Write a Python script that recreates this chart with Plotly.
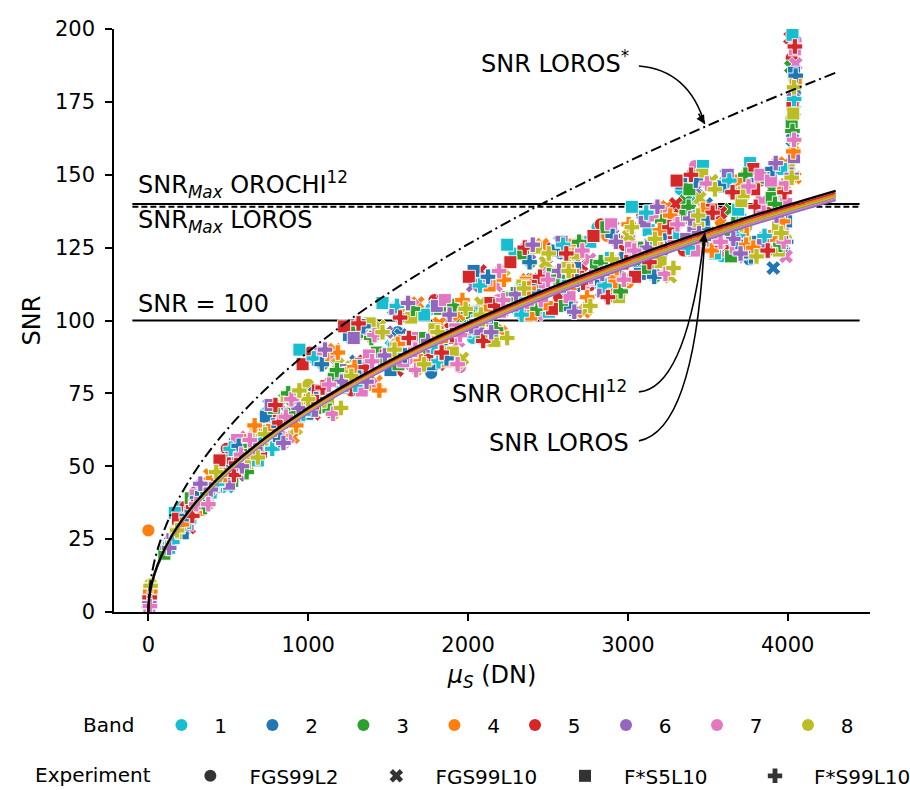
import plotly.graph_objects as go

# ---------------- data ----------------
bands = ["1", "2", "3", "4", "5", "6", "7", "8"]
band_colors = ["#17becf", "#1f77b4", "#2ca02c", "#ff7f0e", "#d62728", "#9467bd", "#e377c2", "#bcbd22"]
experiments = ["FGS99L2", "FGS99L10", "F*S5L10", "F*S99L10"]
exp_symbols = ["circle", "x", "square", "cross"]

# FGS99L2 (per band)
fgs99l2_x = [
    [8, 140, 410, 690, 950, 1230, 1500, 1780, 2060, 2330, 2610, 2890, 3160, 3440, 3720, 3960, 4030],
    [12, 210, 470, 760, 1020, 1290, 1560, 1770, 2110, 2390, 2580, 2940, 3210, 3480, 3760, 3980, 4045],
    [5, 95, 330, 600, 870, 1140, 1410, 1690, 1960, 2240, 2520, 2790, 3070, 3350, 3630, 3770, 4010],
    [0, 170, 440, 720, 990, 1260, 1530, 1800, 2080, 2350, 2630, 2870, 3000, 3300, 3580, 3860, 4040],
    [10, 250, 520, 800, 1070, 1340, 1610, 1880, 2150, 2440, 2490, 2760, 3040, 3310, 3590, 3870, 4025],
    [6, 120, 380, 660, 930, 1200, 1470, 1740, 2020, 2300, 2570, 2850, 3120, 3390, 3670, 3940, 4035],
    [9, 280, 550, 830, 1100, 1370, 1640, 1950, 2190, 2470, 2740, 3010, 3280, 3420, 3700, 3970, 4050],
    [14, 190, 460, 740, 1000, 1280, 1550, 1820, 2090, 2370, 2640, 2920, 3190, 3460, 3740, 3990, 4040],
]
fgs99l2_y = [
    [5, 24, 43, 57, 68, 81, 88, 91, 102, 112, 111, 117, 126, 137, 128, 133, 165],
    [6, 30, 46, 63, 73, 85, 96, 82, 104, 113, 123, 119, 127, 136, 121, 124, 178],
    [3, 20, 39, 55, 67, 79, 87, 90, 99, 108, 115, 115, 123, 135, 128, 154, 152],
    [28, 27, 45, 60, 72, 80, 91, 93, 101, 113, 111, 129, 113, 135, 134, 126, 170],
    [7, 33, 50, 64, 76, 83, 91, 96, 104, 103, 125, 112, 123, 139, 130, 137, 190],
    [4, 23, 41, 56, 70, 80, 89, 90, 97, 106, 113, 113, 121, 141, 127, 130, 158],
    [2, 36, 52, 66, 76, 86, 88, 84, 107, 116, 113, 129, 128, 153, 123, 131, 196],
    [8, 29, 47, 61, 78, 82, 92, 94, 103, 111, 121, 117, 127, 138, 132, 128, 183],
]
fgs99l2_x_more = [
    [210, 470, 730, 990, 1250, 1510, 1770, 2030, 2290, 2550, 2810, 3070, 3330, 3590, 3810],
    [260, 520, 780, 1040, 1300, 1560, 1820, 2080, 2340, 2600, 2860, 3120, 3380, 3640, 3860],
    [310, 570, 830, 1090, 1350, 1610, 1870, 2130, 2390, 2650, 2910, 3170, 3430, 3690, 3910],
    [360, 620, 880, 1140, 1400, 1660, 1920, 2180, 2440, 2700, 2960, 3220, 3480, 3740, 3960],
    [230, 490, 750, 1010, 1270, 1530, 1790, 2050, 2310, 2570, 2830, 3090, 3350, 3610, 3830],
    [280, 540, 800, 1060, 1320, 1580, 1840, 2100, 2360, 2620, 2880, 3140, 3400, 3660, 3880],
    [330, 590, 850, 1110, 1370, 1630, 1890, 2150, 2410, 2670, 2930, 3190, 3450, 3710, 3930],
    [380, 640, 900, 1160, 1420, 1680, 1940, 2200, 2460, 2720, 2980, 3240, 3500, 3760, 3980],
]
fgs99l2_y_more = [
    [36, 43, 68, 70, 96, 85, 104, 94, 123, 105, 132, 118, 145, 122, 149],
    [32, 56, 57, 87, 78, 105, 86, 112, 102, 126, 112, 137, 125, 148, 129],
    [40, 57, 59, 85, 98, 88, 87, 115, 120, 104, 129, 115, 148, 127, 152],
    [37, 49, 75, 69, 94, 104, 105, 97, 104, 127, 110, 134, 128, 150, 126],
    [36, 56, 57, 89, 76, 86, 107, 114, 106, 108, 133, 136, 124, 125, 148],
    [34, 47, 71, 72, 99, 101, 89, 93, 125, 123, 108, 120, 150, 144, 124],
    [44, 50, 58, 90, 79, 106, 102, 96, 126, 103, 127, 139, 130, 123, 154],
    [37, 60, 73, 68, 95, 83, 85, 117, 107, 124, 114, 116, 147, 146, 127],
]

# FGS99L10 (per band)
fgs99l10_x = [
    [7, 160, 420, 700, 980, 1250, 1520, 1790, 2060, 2340, 2610, 2880, 3150, 3430, 3700, 3970, 4040],
    [11, 230, 490, 770, 1040, 1300, 1580, 1850, 2120, 2400, 2670, 2950, 3220, 3490, 3760, 3910, 4030],
    [4, 110, 360, 630, 900, 1170, 1440, 1710, 1990, 2270, 2540, 2810, 3090, 3360, 3640, 3900, 4020],
    [13, 200, 470, 740, 1010, 1280, 1550, 1820, 2100, 2370, 2640, 2920, 3190, 3460, 3730, 3950, 4045],
    [9, 270, 540, 810, 1080, 1350, 1620, 1890, 2160, 2440, 2710, 2980, 3250, 3300, 3580, 3850, 4015],
    [6, 140, 400, 680, 950, 1220, 1490, 1760, 2030, 2300, 2580, 2850, 3130, 3400, 3680, 3940, 4035],
    [10, 300, 570, 850, 1120, 1390, 1660, 1940, 2210, 2490, 2760, 3030, 3300, 3570, 3840, 3990, 4050],
    [15, 180, 450, 720, 990, 1270, 1540, 1810, 2080, 2360, 2630, 2900, 3170, 3450, 3720, 3980, 4040],
]
fgs99l10_y = [
    [4, 25, 44, 58, 69, 81, 91, 93, 99, 111, 113, 116, 124, 143, 135, 141, 172],
    [5, 32, 47, 63, 75, 86, 95, 91, 105, 114, 112, 120, 130, 140, 124, 118, 162],
    [2, 21, 40, 58, 71, 81, 88, 88, 101, 107, 117, 115, 121, 141, 138, 145, 187],
    [7, 29, 47, 60, 73, 84, 87, 99, 100, 114, 112, 117, 129, 135, 127, 137, 149],
    [6, 35, 52, 66, 75, 86, 93, 97, 104, 110, 119, 124, 132, 140, 137, 128, 197],
    [3, 24, 42, 59, 70, 82, 96, 90, 112, 108, 116, 114, 122, 137, 126, 131, 176],
    [3, 38, 52, 65, 74, 88, 87, 93, 103, 119, 121, 125, 131, 124, 141, 122, 188],
    [9, 28, 46, 61, 72, 84, 89, 92, 106, 110, 116, 120, 125, 142, 143, 137, 160],
]
fgs99l10_x_more = [
    [235, 495, 755, 1015, 1275, 1535, 1795, 2055, 2315, 2575, 2835, 3095, 3355, 3615, 3835],
    [285, 545, 805, 1065, 1325, 1585, 1845, 2105, 2365, 2625, 2885, 3145, 3405, 3665, 3885],
    [335, 595, 855, 1115, 1375, 1635, 1895, 2155, 2415, 2675, 2935, 3195, 3455, 3715, 3935],
    [385, 645, 905, 1165, 1425, 1685, 1945, 2205, 2465, 2725, 2985, 3245, 3505, 3765, 3985],
    [255, 515, 775, 1035, 1295, 1555, 1815, 2075, 2335, 2595, 2855, 3115, 3375, 3635, 3855],
    [305, 565, 825, 1085, 1345, 1605, 1865, 2125, 2385, 2645, 2905, 3165, 3425, 3685, 3905],
    [355, 615, 875, 1135, 1395, 1655, 1915, 2175, 2435, 2695, 2955, 3215, 3475, 3735, 3955],
    [405, 665, 925, 1185, 1445, 1705, 1965, 2225, 2485, 2745, 3005, 3265, 3525, 3785, 4005],
]
fgs99l10_y_more = [
    [29, 43, 71, 69, 94, 104, 105, 97, 104, 127, 110, 134, 128, 150, 126],
    [39, 58, 59, 89, 76, 86, 107, 114, 106, 108, 133, 136, 124, 125, 148],
    [37, 50, 73, 72, 99, 101, 89, 93, 125, 123, 108, 120, 150, 144, 124],
    [47, 53, 60, 90, 79, 106, 102, 96, 126, 103, 127, 139, 130, 123, 154],
    [29, 54, 68, 68, 95, 83, 85, 117, 107, 124, 114, 116, 147, 146, 127],
    [41, 47, 71, 70, 96, 85, 104, 94, 123, 105, 132, 118, 145, 122, 149],
    [37, 60, 60, 87, 78, 105, 86, 112, 102, 126, 112, 137, 125, 148, 129],
    [45, 62, 63, 85, 98, 88, 87, 115, 120, 104, 129, 115, 148, 127, 152],
]

# F*S5L10 (per band)
fs5l10_x = [
    [5, 130, 390, 670, 940, 1210, 1480, 1760, 2030, 2310, 2590, 2860, 3130, 3470, 3690, 3960, 4030],
    [8, 220, 480, 750, 1030, 1310, 1570, 1840, 2120, 2390, 2670, 2940, 3210, 3480, 3750, 3990, 4040],
    [12, 100, 350, 620, 890, 1160, 1430, 1700, 1980, 2250, 2530, 2800, 3080, 3360, 3640, 3900, 4025],
    [4, 190, 460, 730, 1000, 1270, 1540, 1810, 2090, 2360, 2630, 2910, 3180, 3450, 3720, 3970, 4050],
    [7, 260, 530, 790, 1060, 1330, 1600, 1870, 2140, 2420, 2690, 2970, 3240, 3520, 3790, 3950, 4030],
    [10, 150, 410, 690, 960, 1230, 1500, 1770, 2040, 2320, 2600, 2870, 3140, 3410, 3690, 3960, 4040],
    [6, 290, 560, 840, 1110, 1380, 1650, 1920, 2200, 2480, 2750, 3020, 3290, 3560, 3830, 3990, 4045],
    [13, 170, 440, 710, 980, 1250, 1520, 1790, 2070, 2340, 2620, 2890, 3160, 3440, 3710, 3940, 4035],
]
fs5l10_y = [
    [1, 22, 41, 56, 67, 77, 85, 92, 100, 107, 114, 119, 131, 153, 138, 152, 198],
    [5, 31, 48, 62, 73, 83, 89, 95, 101, 112, 118, 117, 124, 133, 147, 134, 185],
    [6, 20, 40, 56, 68, 80, 89, 94, 97, 108, 116, 119, 125, 136, 131, 142, 168],
    [3, 29, 46, 61, 70, 83, 90, 96, 103, 113, 117, 114, 126, 137, 131, 145, 182],
    [4, 34, 51, 63, 76, 85, 93, 94, 106, 112, 115, 120, 130, 138, 145, 133, 174],
    [5, 25, 43, 57, 69, 83, 87, 91, 103, 107, 112, 120, 126, 131, 126, 136, 156],
    [1, 37, 53, 65, 77, 88, 94, 97, 103, 113, 114, 125, 134, 128, 150, 140, 193],
    [8, 27, 45, 59, 71, 82, 88, 97, 100, 112, 118, 118, 127, 134, 141, 132, 171],
]
fs5l10_x_more = [
    [165, 425, 685, 945, 1205, 1465, 1725, 1985, 2245, 2505, 2765, 3025, 3285, 3545, 3765],
    [215, 475, 735, 995, 1255, 1515, 1775, 2035, 2295, 2555, 2815, 3075, 3335, 3595, 3815],
    [265, 525, 785, 1045, 1305, 1565, 1825, 2085, 2345, 2605, 2865, 3125, 3385, 3645, 3865],
    [315, 575, 835, 1095, 1355, 1615, 1875, 2135, 2395, 2655, 2915, 3175, 3435, 3695, 3915],
    [185, 445, 705, 965, 1225, 1485, 1745, 2005, 2265, 2525, 2785, 3045, 3305, 3565, 3785],
    [245, 505, 765, 1025, 1285, 1545, 1805, 2065, 2325, 2585, 2845, 3105, 3365, 3625, 3845],
    [295, 555, 815, 1075, 1335, 1595, 1855, 2115, 2375, 2635, 2895, 3155, 3415, 3675, 3895],
    [345, 605, 865, 1125, 1385, 1645, 1905, 2165, 2425, 2685, 2945, 3205, 3465, 3725, 3945],
]
fs5l10_y_more = [
    [34, 43, 52, 90, 79, 106, 102, 96, 126, 103, 127, 139, 130, 123, 154],
    [27, 52, 67, 68, 95, 83, 85, 117, 107, 124, 114, 116, 147, 146, 127],
    [39, 45, 70, 70, 96, 85, 104, 94, 123, 105, 132, 118, 145, 122, 149],
    [35, 59, 59, 87, 78, 105, 86, 112, 102, 126, 112, 137, 125, 148, 129],
    [32, 52, 55, 85, 98, 88, 87, 115, 120, 104, 129, 115, 148, 127, 152],
    [30, 44, 71, 69, 94, 104, 105, 97, 104, 127, 110, 134, 128, 150, 126],
    [40, 59, 60, 89, 76, 86, 107, 114, 106, 108, 133, 136, 124, 125, 148],
    [38, 50, 74, 72, 99, 101, 89, 93, 125, 123, 108, 120, 150, 144, 124],
]

# F*S99L10 (per band)
fs99l10_x = [
    [9, 150, 430, 710, 970, 1240, 1510, 1780, 2050, 2330, 2600, 2870, 3140, 3420, 3690, 3950, 4040],
    [11, 240, 500, 780, 1050, 1320, 1590, 1860, 2130, 2410, 2680, 2960, 3230, 3500, 3770, 3990, 4050],
    [4, 120, 370, 640, 910, 1180, 1450, 1720, 2000, 2280, 2560, 2830, 3110, 3380, 3660, 3920, 4030],
    [12, 210, 480, 750, 1020, 1290, 1560, 1830, 2110, 2380, 2650, 2930, 3200, 3470, 3740, 3970, 4035],
    [8, 280, 550, 820, 1090, 1360, 1630, 1900, 2170, 2450, 2720, 2990, 3260, 3530, 3800, 3980, 4045],
    [6, 130, 390, 670, 940, 1210, 1480, 1750, 2020, 2300, 2570, 2840, 3120, 3390, 3660, 3930, 4025],
    [10, 300, 580, 860, 1130, 1400, 1670, 1950, 2220, 2500, 2770, 3040, 3310, 3580, 3850, 3990, 4040],
    [14, 180, 450, 730, 1000, 1270, 1540, 1810, 2080, 2350, 2630, 2900, 3170, 3440, 3710, 3960, 4040],
]
fs99l10_y = [
    [6, 24, 44, 59, 68, 78, 90, 91, 102, 110, 112, 121, 125, 137, 129, 138, 176],
    [6, 33, 48, 64, 73, 84, 92, 94, 102, 110, 114, 121, 130, 135, 122, 127, 184],
    [2, 22, 41, 57, 68, 83, 86, 91, 103, 109, 115, 120, 123, 139, 133, 140, 165],
    [7, 30, 47, 62, 72, 84, 92, 93, 103, 111, 117, 118, 131, 138, 126, 134, 158],
    [5, 36, 51, 65, 77, 84, 94, 95, 105, 115, 113, 120, 132, 137, 139, 144, 194],
    [3, 22, 42, 56, 70, 79, 88, 93, 98, 109, 117, 116, 125, 135, 128, 136, 150],
    [2, 37, 54, 67, 78, 86, 90, 95, 107, 114, 115, 124, 133, 127, 137, 147, 162],
    [9, 28, 47, 61, 73, 81, 90, 96, 102, 111, 117, 121, 128, 136, 133, 130, 180],
]
fs99l10_x_more = [
    [255, 515, 775, 1035, 1295, 1555, 1815, 2075, 2335, 2595, 2855, 3115, 3375, 3635, 3855],
    [305, 565, 825, 1085, 1345, 1605, 1865, 2125, 2385, 2645, 2905, 3165, 3425, 3685, 3905],
    [355, 615, 875, 1135, 1395, 1655, 1915, 2175, 2435, 2695, 2955, 3215, 3475, 3735, 3955],
    [405, 665, 925, 1185, 1445, 1705, 1965, 2225, 2485, 2745, 3005, 3265, 3525, 3785, 4005],
    [275, 535, 795, 1055, 1315, 1575, 1835, 2095, 2355, 2615, 2875, 3135, 3395, 3655, 3875],
    [325, 585, 845, 1105, 1365, 1625, 1885, 2145, 2405, 2665, 2925, 3185, 3445, 3705, 3925],
    [375, 635, 895, 1155, 1415, 1675, 1935, 2195, 2455, 2715, 2975, 3235, 3495, 3755, 3975],
    [425, 685, 945, 1205, 1465, 1725, 1985, 2245, 2505, 2765, 3025, 3285, 3545, 3805, 4025],
]
fs99l10_y_more = [
    [31, 56, 56, 87, 78, 105, 86, 112, 102, 126, 112, 137, 125, 148, 129],
    [39, 57, 59, 85, 98, 88, 87, 115, 120, 104, 129, 115, 148, 127, 152],
    [36, 48, 75, 69, 94, 104, 105, 97, 104, 127, 110, 134, 128, 150, 126],
    [46, 64, 64, 89, 76, 86, 107, 114, 106, 108, 133, 136, 124, 125, 148],
    [33, 47, 71, 72, 99, 101, 89, 93, 125, 123, 108, 120, 150, 144, 124],
    [44, 50, 58, 90, 79, 106, 102, 96, 126, 103, 127, 139, 130, 123, 154],
    [37, 59, 73, 68, 95, 83, 85, 117, 107, 124, 114, 116, 147, 146, 127],
    [48, 53, 76, 70, 96, 85, 104, 94, 123, 105, 132, 118, 145, 122, 149],
]

exp_x = [fgs99l2_x, fgs99l10_x, fs5l10_x, fs99l10_x]
exp_y = [fgs99l2_y, fgs99l10_y, fs5l10_y, fs99l10_y]
exp_x_more = [fgs99l2_x_more, fgs99l10_x_more, fs5l10_x_more, fs99l10_x_more]
exp_y_more = [fgs99l2_y_more, fgs99l10_y_more, fs5l10_y_more, fs99l10_y_more]

# model curves
model_x = [0, 5, 20, 60, 150, 300, 500, 800, 1200, 1700, 2300, 3000, 3700, 4300]
snr_orochi = [0, 4.8, 9.5, 16.5, 26.5, 37.8, 49.2, 62.5, 76.8, 91.5, 106.3, 121.3, 134.5, 144.5]
snr_loros_bands = [
    [0, 4.6, 9.2, 16.0, 25.7, 36.8, 47.9, 61.0, 75.0, 89.3, 103.8, 118.6, 131.7, 141.5],
    [0, 4.6, 9.2, 16.1, 25.9, 37.0, 48.2, 61.3, 75.4, 89.8, 104.4, 119.2, 132.3, 142.2],
    [0, 4.7, 9.3, 16.2, 26.0, 37.2, 48.5, 61.6, 75.8, 90.2, 104.9, 119.7, 132.9, 142.8],
    [0, 4.7, 9.3, 16.3, 26.1, 37.3, 48.6, 61.8, 76.0, 90.5, 105.1, 120.0, 133.2, 143.1],
    [0, 4.7, 9.4, 16.4, 26.3, 37.5, 48.9, 62.1, 76.3, 90.9, 105.6, 120.6, 133.8, 143.7],
    [0, 4.5, 9.1, 16.0, 25.6, 36.7, 47.8, 60.8, 74.8, 89.1, 103.6, 118.3, 131.4, 141.2],
    [0, 4.6, 9.2, 16.1, 25.8, 36.9, 48.1, 61.2, 75.2, 89.6, 104.1, 118.9, 132.0, 141.8],
    [0, 4.7, 9.3, 16.2, 26.0, 37.1, 48.4, 61.5, 75.6, 90.1, 104.7, 119.5, 132.6, 142.5],
]
snr_loros_star = [0, 6.3, 12.6, 21.9, 34.6, 48.9, 63.1, 79.8, 97.8, 116.3, 135.3, 154.5, 171.6, 185.0]

snr_max_orochi = 140
snr_max_loros = 139
snr_ref = 100

xticks = [0, 1000, 2000, 3000, 4000]
yticks = [0, 25, 50, 75, 100, 125, 150, 175, 200]

# ---------------- figure ----------------
FONT = "DejaVu Sans"
fig = go.Figure()

for ei, exp in enumerate(experiments):
    for bi, band in enumerate(bands):
        fig.add_trace(go.Scatter(
            x=exp_x[ei][bi] + exp_x_more[ei][bi], y=exp_y[ei][bi] + exp_y_more[ei][bi],
            mode="markers",
            marker=dict(symbol=exp_symbols[ei], color=band_colors[bi], size=13,
                        line=dict(color="white", width=0.9)),
            showlegend=False, hoverinfo="skip"))

for bi in range(len(bands)):
    fig.add_trace(go.Scatter(x=model_x, y=snr_loros_bands[bi], mode="lines",
                             line=dict(color=band_colors[bi], width=1.6, shape="spline"),
                             showlegend=False, hoverinfo="skip"))
fig.add_trace(go.Scatter(x=model_x, y=snr_orochi, mode="lines",
                         line=dict(color="black", width=2.4, shape="spline"),
                         showlegend=False, hoverinfo="skip"))
fig.add_trace(go.Scatter(x=model_x, y=snr_loros_star, mode="lines",
                         line=dict(color="black", width=2, shape="spline", dash="11px,4px,2px,4px"),
                         showlegend=False, hoverinfo="skip"))

# legend entries (split into several legends for exact placement)
NB = "\u00a0"
band_legends = ["legend", "legend", "legend", "legend", "legend3", "legend3", "legend3", "legend3"]
for bi, band in enumerate(bands):
    fig.add_trace(go.Scatter(x=[None], y=[None], mode="markers", name=NB * 2 + band,
                             marker=dict(symbol="circle", color=band_colors[bi], size=13),
                             legend=band_legends[bi]))
exp_legends = ["legend2", "legend2", "legend4", "legend4"]
for ei, exp in enumerate(experiments):
    fig.add_trace(go.Scatter(x=[None], y=[None], mode="markers", name=NB * 3 + exp,
                             marker=dict(symbol=exp_symbols[ei], color="#333333", size=13),
                             legend=exp_legends[ei]))

# horizontal reference lines
fig.add_shape(type="line", xref="x", yref="y", x0=-100, x1=4450, y0=snr_max_orochi, y1=snr_max_orochi,
              line=dict(color="black", width=2), layer="below")
fig.add_shape(type="line", xref="x", yref="y", x0=-100, x1=4450, y0=snr_max_loros, y1=snr_max_loros,
              line=dict(color="black", width=2, dash="6px,3px"), layer="below")
fig.add_shape(type="line", xref="x", yref="y", x0=-100, x1=4450, y0=snr_ref, y1=snr_ref,
              line=dict(color="black", width=2), layer="below")

# curved arrows
def curved_arrow(p0, c, p1):
    fig.add_shape(type="path", xref="x", yref="y",
                  path=f"M {p0[0]},{p0[1]} Q {c[0]},{c[1]} {p1[0]},{p1[1]}",
                  line=dict(color="black", width=1.6))

curved_arrow((3069, 187.3), (3381, 185.9), (3481, 167.4))
curved_arrow((3069, 75.5), (3369, 76.8), (3481, 130.0))
curved_arrow((3069, 58.7), (3425, 62.4), (3481, 129.3))

for (x, y, ax, ay) in [(3481, 167.4, -7, -12), (3481, 130.0, -2, 14)]:
    fig.add_annotation(x=x, y=y, ax=ax, ay=ay, text="", showarrow=True,
                       arrowhead=2, arrowsize=1.1, arrowwidth=1.6, arrowcolor="black")

ann_font = dict(family=FONT, size=24, color="black")
fig.add_annotation(x=-75, y=146.5, text="SNR<sub><i>Max</i></sub> OROCHI<sup>12</sup>",
                   xanchor="left", yanchor="middle", showarrow=False, font=ann_font)
fig.add_annotation(x=-75, y=134.0, text="SNR<sub><i>Max</i></sub> LOROS",
                   xanchor="left", yanchor="middle", showarrow=False, font=ann_font)
fig.add_annotation(x=-75, y=105.5, text="SNR = 100",
                   xanchor="left", yanchor="middle", showarrow=False, font=ann_font)
fig.add_annotation(x=3019, y=188.7, text="SNR LOROS<sup>*</sup>",
                   xanchor="right", yanchor="middle", showarrow=False, font=ann_font)
fig.add_annotation(x=3006, y=75.5, text="SNR OROCHI<sup>12</sup>",
                   xanchor="right", yanchor="middle", showarrow=False, font=ann_font)
fig.add_annotation(x=3019, y=58.0, text="SNR LOROS",
                   xanchor="right", yanchor="middle", showarrow=False, font=ann_font)

axis_common = dict(showline=True, linecolor="black", linewidth=1.6, ticks="outside",
                   ticklen=7, tickwidth=1.6, tickcolor="black", showgrid=False, zeroline=False,
                   ticklabelstandoff=6,
                   tickfont=dict(family=FONT, size=21, color="black"))

leg_font = dict(family=FONT, size=20, color="black")
leg_common = dict(orientation="h", xanchor="left", yanchor="middle", font=leg_font,
                  entrywidthmode="pixels", itemsizing="constant", bgcolor="rgba(0,0,0,0)",
                  borderwidth=0)

fig.update_layout(
    width=910, height=790,
    margin=dict(l=114, r=40, t=29, b=178, autoexpand=False),
    plot_bgcolor="white", paper_bgcolor="white",
    font=dict(family=FONT, color="black"),
    xaxis=dict(range=[-215, 4515], tickvals=xticks,
               title=dict(text="<i>μ<sub>S</sub></i> (DN)", font=dict(family=FONT, size=24), standoff=10),
               **axis_common),
    yaxis=dict(range=[0, 200], tickvals=yticks,
               title=dict(text="SNR", font=dict(family=FONT, size=24), standoff=8),
               **axis_common),
    legend=dict(x=(81 - 114) / 756, y=-0.194, entrywidth=46,
                title=dict(text="Band" + NB * 3, side="left", font=leg_font), **leg_common),
    legend3=dict(x=(515 - 114) / 756, y=-0.194, entrywidth=46, **leg_common),
    legend2=dict(x=(33 - 114) / 756, y=-0.281, entrywidth=141,
                 title=dict(text="Experiment" + NB * 5, side="left", font=leg_font), **leg_common),
    legend4=dict(x=(565 - 114) / 756, y=-0.281, entrywidth=145, **leg_common),
)

fig.write_html("out.html")
